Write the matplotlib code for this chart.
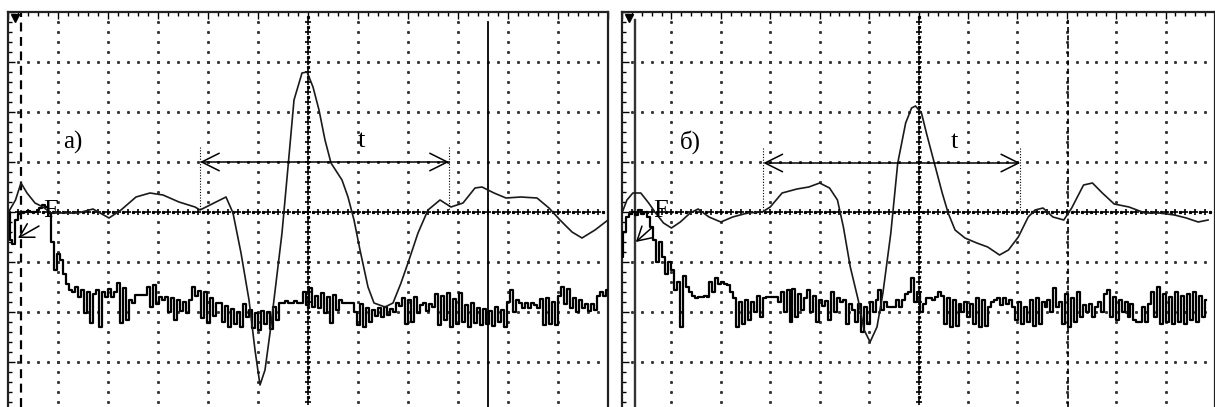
"""
Two oscilloscope screenshots side by side (а) and (б): a signal trace,
a noisy digital trace, cursors, and the marked interval t.
Screen units are divisions: 12 x 8 with the centre at (6, 0).
"""

import numpy as np
import matplotlib.pyplot as plt

OUT_PATH = "out.png"
COUNTS_PER_DIV = 50        # noise trace is stored in ADC counts
NOISE_STEP = 0.06          # sample interval of the noise trace, div

# --- panel а): signal trace ---
SIG_A_T = [0.00, 0.15, 0.26, 0.38, 0.54, 0.70, 0.86, 1.40, 1.70, 2.02, 2.26,
           2.56, 2.84, 3.10, 3.42, 3.74, 3.84, 4.04, 4.36, 4.50, 4.66, 4.82,
           4.94, 5.04, 5.14, 5.24, 5.36, 5.48, 5.60, 5.72, 5.88, 5.98, 6.10,
           6.22, 6.34, 6.46, 6.68, 6.80, 6.92, 7.04, 7.20, 7.32, 7.54, 7.70,
           7.86, 8.02, 8.20, 8.40, 8.64, 8.86, 9.10, 9.34, 9.48, 9.72, 9.96,
           10.26, 10.58, 10.82, 11.04, 11.28, 11.48, 11.74, 12.00]
SIG_A_V = [-0.02, 0.24, 0.58, 0.38, 0.18, 0.10, -0.02, -0.02, 0.06, -0.12, 0.04,
           0.30, 0.38, 0.34, 0.20, 0.10, 0.04, 0.14, 0.30, -0.02, -0.82, -1.76,
           -2.76, -3.46, -3.16, -2.42, -1.42, -0.42, 0.90, 2.24, 2.78, 2.80, 2.50,
           2.04, 1.44, 0.98, 0.64, 0.30, -0.16, -0.76, -1.50, -1.82, -1.90, -1.82,
           -1.42, -0.96, -0.42, 0.04, 0.24, 0.10, 0.18, 0.48, 0.50, 0.38, 0.28,
           0.30, 0.28, 0.08, -0.16, -0.40, -0.52, -0.36, -0.16]

# --- panel а): noise trace (counts) ---
NOISE_A = [0, -28, -32, -8, -2, 0, 0, 1, 0, 0, 2, 4, 7, 5, -1, -30, -58, -42,
           -48, -62, -72, -78,
           -80, -75, -85, -78, -101, -80, -111, -82, -78, -115, -80, -85, -77,
           -85, -80, -71, -111, -76, -108, -88, -91, -83, -83, -83, -83, -75,
           -95, -73, -92, -85, -88, -85, -100, -86, -108, -88, -99, -90, -101,
           -88, -75, -84, -79, -106, -80, -111, -86, -104, -91, -91, -110, -94,
           -115, -97, -112, -100, -115, -92, -105, -98, -116, -101, -118, -99,
           -112, -100, -117, -95, -108, -91, -91, -89, -91, -91, -89, -91, -91,
           -80, -93, -76, -95, -84, -96, -81, -101, -85, -111, -83, -98, -88,
           -91, -91, -91, -91, -100, -113, -92, -115, -96, -110, -98, -104, -96,
           -105, -95, -103, -97, -100, -91, -94, -86, -112, -88, -110, -85,
           -101, -93, -91, -99, -92, -95, -82, -113, -84, -108, -81, -115, -87,
           -112, -81, -110, -93, -115, -91, -111, -96, -113, -97, -112, -99,
           -114, -95, -110, -98, -115, -90, -78, -100, -88, -91, -96, -91, -96,
           -91, -93, -96, -87, -113, -86, -112, -90, -113, -84, -75, -92, -77,
           -96, -86, -100, -88, -96, -92, -99, -92, -98, -84, -80, -84, -78]

# --- panel б): signal trace ---
SIG_B_T = [0.00, 0.10, 0.22, 0.38, 0.54, 0.68, 0.84, 1.00, 1.18, 1.38, 1.54,
           1.76, 2.00, 2.24, 2.54, 2.84, 3.00, 3.24, 3.54, 3.78, 4.00, 4.20,
           4.36, 4.48, 4.62, 4.78, 4.90, 5.02, 5.16, 5.28, 5.44, 5.58, 5.74,
           5.86, 5.94, 6.06, 6.16, 6.32, 6.48, 6.60, 6.74, 6.94, 7.18, 7.40,
           7.64, 7.82, 8.02, 8.22, 8.36, 8.52, 8.72, 8.94, 9.10, 9.34, 9.52,
           9.72, 9.96, 10.26, 10.58, 10.88, 11.18, 11.42, 11.66, 11.86]
SIG_B_V = [-0.02, 0.24, 0.38, 0.38, 0.18, -0.02, -0.22, -0.32, -0.20, -0.02, 0.06,
           -0.10, -0.20, -0.10, -0.02, 0.00, 0.10, 0.38, 0.46, 0.50, 0.58, 0.48,
           0.24, -0.30, -1.10, -1.76, -2.36, -2.60, -2.30, -1.62, -0.42, 0.98, 1.78,
           2.08, 2.12, 1.98, 1.58, 0.98, 0.38, -0.02, -0.36, -0.52, -0.62, -0.70,
           -0.86, -0.76, -0.50, -0.10, 0.04, 0.08, -0.10, -0.16, 0.08, 0.54, 0.58,
           0.38, 0.16, 0.10, -0.02, -0.02, -0.06, -0.12, -0.20, -0.16]

# --- panel б): noise trace (counts) ---
NOISE_B = [-45, -20, -5, -2, 0, -3, 2, -2, 0, -5, -15, -28, -50, -30, -45, -62,
           -50, -58, -78, -70, -115, -64, -75, -80, -84, -86, -85, -85, -84, -85,
           -70, -80, -66, -72, -70, -72, -73, -80, -86, -115, -90, -112, -88,
           -108, -90, -100, -84, -105, -86, -85, -85, -85, -85, -90, -80, -100,
           -78, -110, -77, -105, -82, -98, -86, -78, -100, -84, -110, -88, -94,
           -89, -108, -80, -100, -86, -90, -88, -112, -92, -98, -110, -92, -120,
           -95, -112, -90, -100, -88, -78, -98, -90, -95, -95, -95, -88, -95,
           -88, -82, -80, -66, -90, -80, -100, -92, -86, -86, -88, -85, -80, -84,
           -112, -86, -115, -88, -114, -92, -100, -90, -105, -92, -112, -86,
           -115, -88, -114, -95, -90, -88, -86, -93, -86, -92, -88, -95, -108,
           -90, -112, -95, -110, -88, -114, -86, -112, -90, -95, -88, -100, -76,
           -95, -90, -112, -82, -115, -86, -110, -80, -105, -93, -100, -92, -105,
           -95, -90, -100, -82, -78, -105, -85, -108, -88, -100, -90, -105, -92,
           -108, -110, -110, -95, -110, -92, -80, -105, -75, -112, -82, -110,
           -85, -112, -80, -110, -84, -112, -82, -108, -80, -110, -84, -105, -88]

# cursors (div) and the interval t (start, end, level)
CURSORS_A = {"dashed": 0.26, "solid": 9.60}
CURSORS_B = {"solid": 0.26, "dashed": 9.02}
INTERVAL_A = (3.84, 8.82, 1.0)
INTERVAL_B = (2.86, 8.06, 0.98)

YLIM = (-3.9, 4.0)
SERIF = "Liberation Serif"
DOT = dict(marker="s", ms=1.1, ls="none", color="#333", zorder=1)


def draw_screen(ax, xmax):
    """Dotted graticule with the bold centre cross."""
    ys = np.arange(-3.8, 4.0, 0.2)
    xs = np.arange(0.2, xmax, 0.2)
    for gx in range(1, 12):
        if gx > xmax or gx == 6:
            continue
        ax.plot(np.full_like(ys, gx), ys, **DOT)
    for gy in range(-3, 4):
        if gy == 0:
            continue
        ax.plot(xs, np.full_like(xs, gy), **DOT)

    # centre cross: "+" every 1/5 division with dots between
    ax.plot(np.full_like(ys, 6), ys, "+", ms=4.5, mew=1.2, color="black", zorder=1)
    ax.plot(np.full_like(ys, 6), ys + 0.1, "s", ms=1.3, color="black", zorder=1)
    ax.plot(xs, np.zeros_like(xs), "+", ms=4.5, mew=1.2, color="black", zorder=1)
    ax.plot(xs + 0.1, np.zeros_like(xs), "s", ms=1.3, color="black", zorder=1)

    ax.set_xlim(0, xmax)
    ax.set_ylim(*YLIM)
    ax.set_xticks(range(0, 13))
    ax.set_xticks(np.arange(0, 12.01, 0.2), minor=True)
    ax.set_yticks(range(-3, 5))
    ax.set_yticks(np.arange(-3.8, 4.01, 0.2), minor=True)
    ax.tick_params(which="both", direction="in", top=True, bottom=False,
                   left=True, right=False, labelbottom=False, labelleft=False,
                   color="black", width=1.0)
    ax.tick_params(which="major", length=5)
    ax.tick_params(which="minor", length=3)
    ax.spines["bottom"].set_visible(False)
    for side in ("top", "left", "right"):
        ax.spines[side].set_linewidth(1.6)
        ax.spines[side].set_color("#222")
    # trigger marker in the top-left corner
    ax.plot([0.012], [0.985], "v", ms=6, color="black",
            transform=ax.transAxes, clip_on=False, zorder=5)


def draw_traces(ax, sig_t, sig_v, noise):
    noise_t = np.arange(len(noise)) * NOISE_STEP
    noise_v = np.array(noise) / COUNTS_PER_DIV
    ax.plot(noise_t, noise_v, drawstyle="steps-mid", color="black",
            lw=1.6, zorder=3)
    ax.plot(sig_t, sig_v, color="#1a1a1a", lw=1.2, zorder=4)


def draw_interval(ax, interval, label_xy):
    t0, t1, level = interval
    ax.annotate("", xy=(t0, level), xytext=(t1, level),
                arrowprops=dict(arrowstyle="<->,head_length=0.9,head_width=0.45",
                                mutation_scale=14, lw=1.1, color="black",
                                shrinkA=0, shrinkB=0), zorder=5)
    for tx in (t0, t1):
        ax.plot([tx, tx], [level + 0.3, 0.04], ls=(0, (1, 1.5)),
                lw=0.8, color="black", zorder=5)
    ax.text(label_xy[0], label_xy[1], "t", family=SERIF, fontsize=19,
            ha="center", va="center", zorder=6)


def draw_marker_f(ax, f_xy, tip, tail):
    ax.text(f_xy[0], f_xy[1], "F", family=SERIF, fontsize=19,
            ha="center", va="center", zorder=6)
    ax.annotate("", xy=tip, xytext=tail,
                arrowprops=dict(arrowstyle="->,head_length=0.7,head_width=0.4",
                                mutation_scale=14, lw=1.1, color="black",
                                shrinkA=0, shrinkB=0), zorder=6)


def main():
    W, H = 1215, 407
    fig = plt.figure(figsize=(W / 100, H / 100), dpi=100)
    top_px, bottom_px = 12, 407
    h = (bottom_px - top_px) / H

    ax_a = fig.add_axes([8 / W, 0, 600 / W, h])
    ax_b = fig.add_axes([622 / W, 0, 593 / W, h])

    # --- а) ---
    draw_screen(ax_a, 12.0)
    draw_traces(ax_a, SIG_A_T, SIG_A_V, NOISE_A)
    ax_a.axvline(CURSORS_A["dashed"], color="black", lw=1.6,
                 ls=(0, (4, 2.5)), zorder=2)
    ax_a.plot([CURSORS_A["solid"]] * 2, [YLIM[0], 3.8], color="black",
              lw=1.3, zorder=2)
    draw_interval(ax_a, INTERVAL_A, (7.06, 1.42))
    ax_a.text(1.3, 1.4, "а)", family=SERIF, fontsize=18,
              ha="center", va="center", zorder=6)
    draw_marker_f(ax_a, (0.86, 0.02), (0.2, -0.52), (0.62, -0.28))

    # --- б) ---
    draw_screen(ax_b, (W - 622) / 50)
    draw_traces(ax_b, SIG_B_T, SIG_B_V, NOISE_B)
    ax_b.plot([CURSORS_B["solid"]] * 2, [YLIM[0], 3.84], color="#333",
              lw=1.7, zorder=2)
    ax_b.plot([CURSORS_B["dashed"]] * 2, [YLIM[0], 3.84], color="black",
              lw=1.2, ls=(0, (3, 2)), zorder=2)
    draw_interval(ax_b, INTERVAL_B, (6.72, 1.4))
    ax_b.text(1.38, 1.4, "б)", family=SERIF, fontsize=18,
              ha="center", va="center", zorder=6)
    draw_marker_f(ax_b, (0.78, 0.02), (0.28, -0.6), (0.62, -0.3))

    fig.savefig(OUT_PATH, dpi=100)
    plt.close(fig)


if __name__ == "__main__":
    main()
